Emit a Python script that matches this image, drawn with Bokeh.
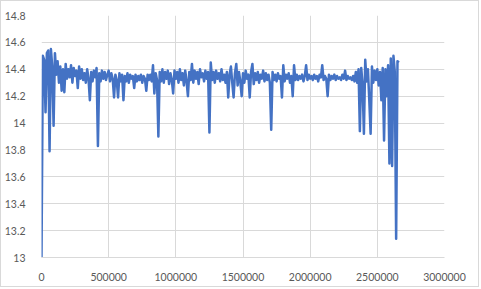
from bokeh.plotting import figure
from bokeh.models import Range1d, FixedTicker, CustomJSTickFormatter, ColumnDataSource
from bokeh.embed import file_html
from bokeh.resources import INLINE

# sampled readings (one every 10000 units along x)
sample_step = 10000
y_values = [
    13.00, 14.50, 14.47, 14.08, 14.52, 14.54, 13.79, 14.55, 14.42, 13.98,
    14.52, 14.36, 14.46, 14.30, 14.42, 14.24, 14.40, 14.23, 14.44, 14.33,
    14.40, 14.34, 14.43, 14.30, 14.41, 14.35, 14.39, 14.26, 14.42, 14.33,
    14.40, 14.32, 14.37, 14.30, 14.40, 14.33, 14.17, 14.38, 14.31, 14.39,
    14.34, 14.41, 13.83, 14.37, 14.31, 14.39, 14.33, 14.38, 14.32, 14.36,
    14.39, 14.31, 14.37, 14.33, 14.19, 14.36, 14.32, 14.19, 14.37, 14.31,
    14.36, 14.17, 14.35, 14.31, 14.37, 14.30, 14.36, 14.33, 14.35, 14.26,
    14.36, 14.31, 14.35, 14.32, 14.36, 14.30, 14.35, 14.33, 14.24, 14.36,
    14.32, 14.36, 14.31, 14.43, 14.22, 14.37, 14.32, 13.90, 14.38, 14.31,
    14.40, 14.30, 14.38, 14.33, 14.39, 14.29, 14.37, 14.32, 14.22, 14.39,
    14.33, 14.38, 14.30, 14.40, 14.32, 14.37, 14.28, 14.39, 14.31, 14.20,
    14.38, 14.32, 14.44, 14.30, 14.39, 14.33, 14.38, 14.29, 14.40, 14.34,
    14.37, 14.31, 14.39, 14.33, 14.38, 13.93, 14.45, 14.32, 14.38, 14.30,
    14.39, 14.33, 14.37, 14.31, 14.40, 14.32, 14.36, 14.30, 14.38, 14.19,
    14.36, 14.42, 14.30, 14.19, 14.37, 14.44, 14.28, 14.38, 14.31, 14.20,
    14.37, 14.30, 14.39, 14.33, 14.36, 14.19, 14.38, 14.44, 14.29, 14.37,
    14.32, 14.38, 14.30, 14.36, 14.33, 14.39, 14.31, 14.37, 14.32, 14.36,
    14.30, 13.95, 14.38, 14.32, 14.36, 14.31, 14.37, 14.33, 14.35, 14.19,
    14.43, 14.31, 14.36, 14.33, 14.37, 14.30, 14.35, 14.20, 14.43, 14.32,
    14.36, 14.32, 14.35, 14.33, 14.36, 14.31, 14.35, 14.43, 14.32, 14.36,
    14.33, 14.35, 14.32, 14.36, 14.33, 14.35, 14.31, 14.36, 14.34, 14.43,
    14.32, 14.35, 14.33, 14.20, 14.36, 14.32, 14.35, 14.33, 14.36, 14.32,
    14.35, 14.33, 14.34, 14.32, 14.36, 14.33, 14.39, 14.32, 14.35, 14.33,
    14.34, 14.32, 14.35, 14.31, 14.38, 14.30, 14.40, 13.94, 14.41, 14.29,
    13.92, 14.47, 14.31, 14.40, 14.17, 13.92, 14.42, 14.30, 14.39, 14.32,
    14.40, 14.28, 14.38, 14.17, 14.41, 13.87, 14.40, 14.20, 14.43, 13.70,
    14.48, 13.68, 14.50, 14.38, 13.14, 14.46, 14.45,
]
x_values = [i * sample_step for i in range(len(y_values))]

x_ticks = [0, 500000, 1000000, 1500000, 2000000, 2500000, 3000000]
y_ticks = [13.0, 13.2, 13.4, 13.6, 13.8, 14.0, 14.2, 14.4, 14.6, 14.8]

src = ColumnDataSource(data=dict(x=x_values, y=y_values))

p = figure(width=479, height=287, output_backend="svg", toolbar_location=None,
           x_range=Range1d(0, 3000000), y_range=Range1d(13, 14.8),
           min_border_left=40, min_border_right=36, min_border_top=14,
           min_border_bottom=31)
p.styles = {"border": "1px solid #d9d9d9"}
p.outline_line_color = None
p.background_fill_color = "white"
p.border_fill_color = "white"

p.line("x", "y", source=src, line_color="#4472C4", line_width=2.5, line_join="round")

font = "Lato"
for ax in (p.xaxis, p.yaxis):
    ax.major_tick_line_color = None
    ax.minor_tick_line_color = None
    ax.major_label_text_font = font
    ax.major_label_text_font_size = "10.5px"
    ax.major_label_text_color = "#595959"

p.xaxis.ticker = FixedTicker(ticks=x_ticks)
p.yaxis.ticker = FixedTicker(ticks=y_ticks)
p.xaxis.formatter = CustomJSTickFormatter(code="return String(Math.round(tick));")
p.yaxis.formatter = CustomJSTickFormatter(code="return String(Math.round(tick*10)/10);")
p.xaxis.axis_line_color = "#d9d9d9"
p.yaxis.axis_line_color = None
p.xaxis.major_label_standoff = 9
p.yaxis.major_label_standoff = 10

p.xgrid.ticker = FixedTicker(ticks=x_ticks)
p.ygrid.ticker = FixedTicker(ticks=y_ticks)
p.xgrid.grid_line_color = "#d9d9d9"
p.ygrid.grid_line_color = "#d9d9d9"

open("out.html", "w").write(file_html(p, INLINE))
